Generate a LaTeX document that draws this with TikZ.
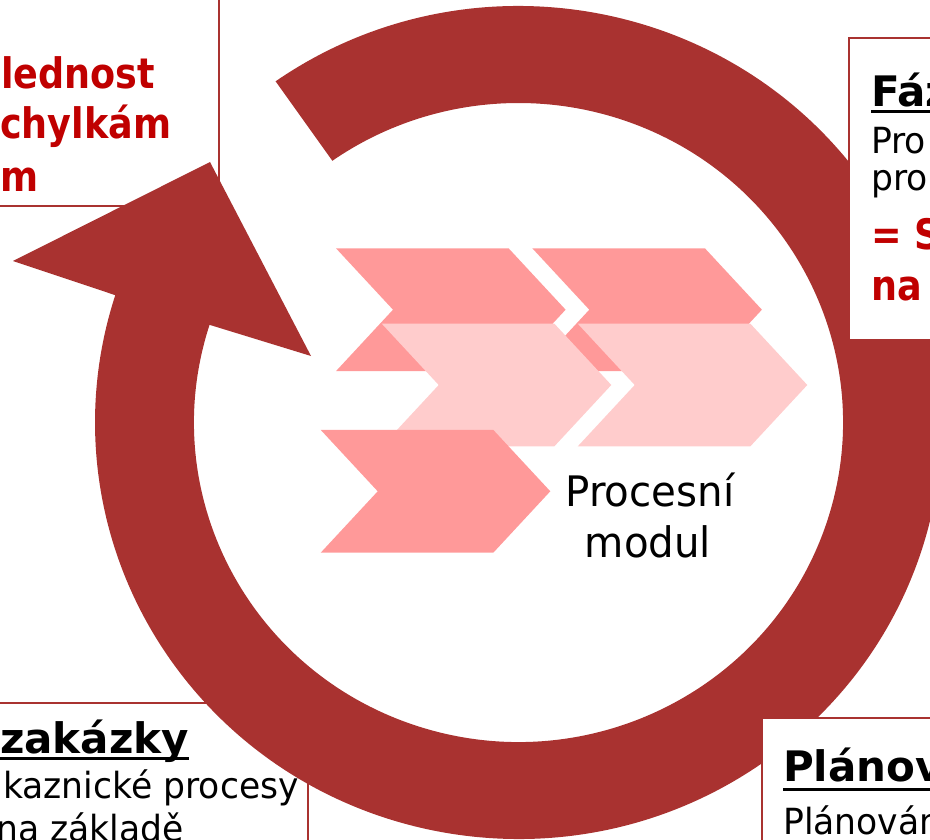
\documentclass[tikz,border=0pt]{standalone}
\usepackage{fontspec}
\setmainfont{DejaVu Sans}
\newfontfamily\bodyfont[FakeStretch=0.96]{DejaVu Sans}
\newfontfamily\redfont[FakeStretch=0.87]{DejaVu Sans}
\definecolor{ringred}{RGB}{169,50,48}
\definecolor{txtred}{RGB}{192,0,0}
\definecolor{chevdark}{RGB}{255,153,153}
\definecolor{chevlight}{RGB}{255,204,204}

% one chevron: #1,#2 = left notch column / vertical centre, #3 = style
\newcommand\chevronat[3]{%
  \fill[#3] (#1,#2) ++(0,-61.4) -- ++(172.6,0) -- ++(57,61.4) -- ++(-57,61.4)
    -- ++(-172.6,0) -- ++(57,-61.4) -- cycle;}

\begin{document}
\begin{tikzpicture}[x=1pt,y=-1pt,
  frame/.style={draw=ringred, line width=2pt, fill=white},
  ring/.style={fill=ringred},
  chevdk/.style={fill=chevdark},
  chevlt/.style={fill=chevlight},
  bodytxt/.style={inner sep=0pt, anchor=base west,
    font=\bodyfont\fontsize{36}{40}\selectfont},
  headtxt/.style={inner sep=0pt, anchor=base west,
    font=\bfseries\fontsize{42}{46}\selectfont},
  redtxt/.style={inner sep=0pt, anchor=base west, text=txtred,
    font=\redfont\bfseries\fontsize{42}{46}\selectfont},
  centtxt/.style={inner sep=0pt, anchor=base,
    font=\bodyfont\fontsize{42}{46}\selectfont},
  uline/.style={line width=3pt}]
\useasboundingbox (0,0) rectangle (930,840);
\clip (0,0) rectangle (930,840);

% text boxes lying under the ring
\path[frame] (-20,-20) rectangle (219,206);
\node[redtxt] (tl1) at (1,89) {lednost};
\node[redtxt] (tl2) at (0,139) {chylkám};
\node[redtxt] (tl3) at (0,192) {m};

\path[frame] (-20,703) rectangle (308,860);
\node[headtxt] (bl0) at (0,753) {zakázky};
\draw[uline] ([yshift=-5pt]bl0.base west) -- ([yshift=-5pt]bl0.base east);
\node[bodytxt] (bl1) at (3,798) {kaznické procesy};
\node[bodytxt] (bl2) at (-4,841) {na základě};

% circular arrow
\coordinate (c) at (518.5,422.5);
\coordinate (barbout) at (13,261);
\coordinate (tip) at (210,162);
\coordinate (barbin) at (311,356);
\fill[ring] ([shift={(c)}]-125:423.5 and 416.5)
  arc[start angle=-125, end angle=197.8, x radius=423.5, y radius=416.5]
  -- (barbout) -- (tip) -- (barbin)
  -- ([shift={(c)}]197.8:324.5 and 319.5)
  arc[start angle=197.8, end angle=-125, x radius=324.5, y radius=319.5]
  -- cycle;

% text boxes lying over the ring
\path[frame] (849,38) rectangle (960,340);
\node[headtxt] (tr0) at (871,107) {Fáz};
\draw[uline] ([yshift=-5pt]tr0.base west) -- ([yshift=-5pt]tr0.base east);
\node[bodytxt] (tr1) at (871,154) {Pro};
\node[bodytxt] (tr2) at (871,191) {pro};
\node[redtxt] (tr3) at (871,249) {= S};
\node[redtxt] (tr4) at (871,300) {na};

\path[frame] (762,718) rectangle (960,860);
\node[headtxt] (br0) at (783,781) {Plánov};
\draw[uline] ([yshift=-8pt]br0.base west) -- ([yshift=-8pt]br0.base east);
\node[bodytxt] (br1) at (783,834) {Plánován};

% process-module chevrons
\chevronat{336}{309.7}{chevdk}
\chevronat{532.3}{309.7}{chevdk}
\chevronat{381.7}{385}{chevlt}
\chevronat{577.7}{385}{chevlt}
\chevronat{320.7}{491.3}{chevdk}

\node[centtxt] (m1) at (650,506) {Procesní};
\node[centtxt] (m2) at (648,557) {modul};
\end{tikzpicture}
\end{document}
